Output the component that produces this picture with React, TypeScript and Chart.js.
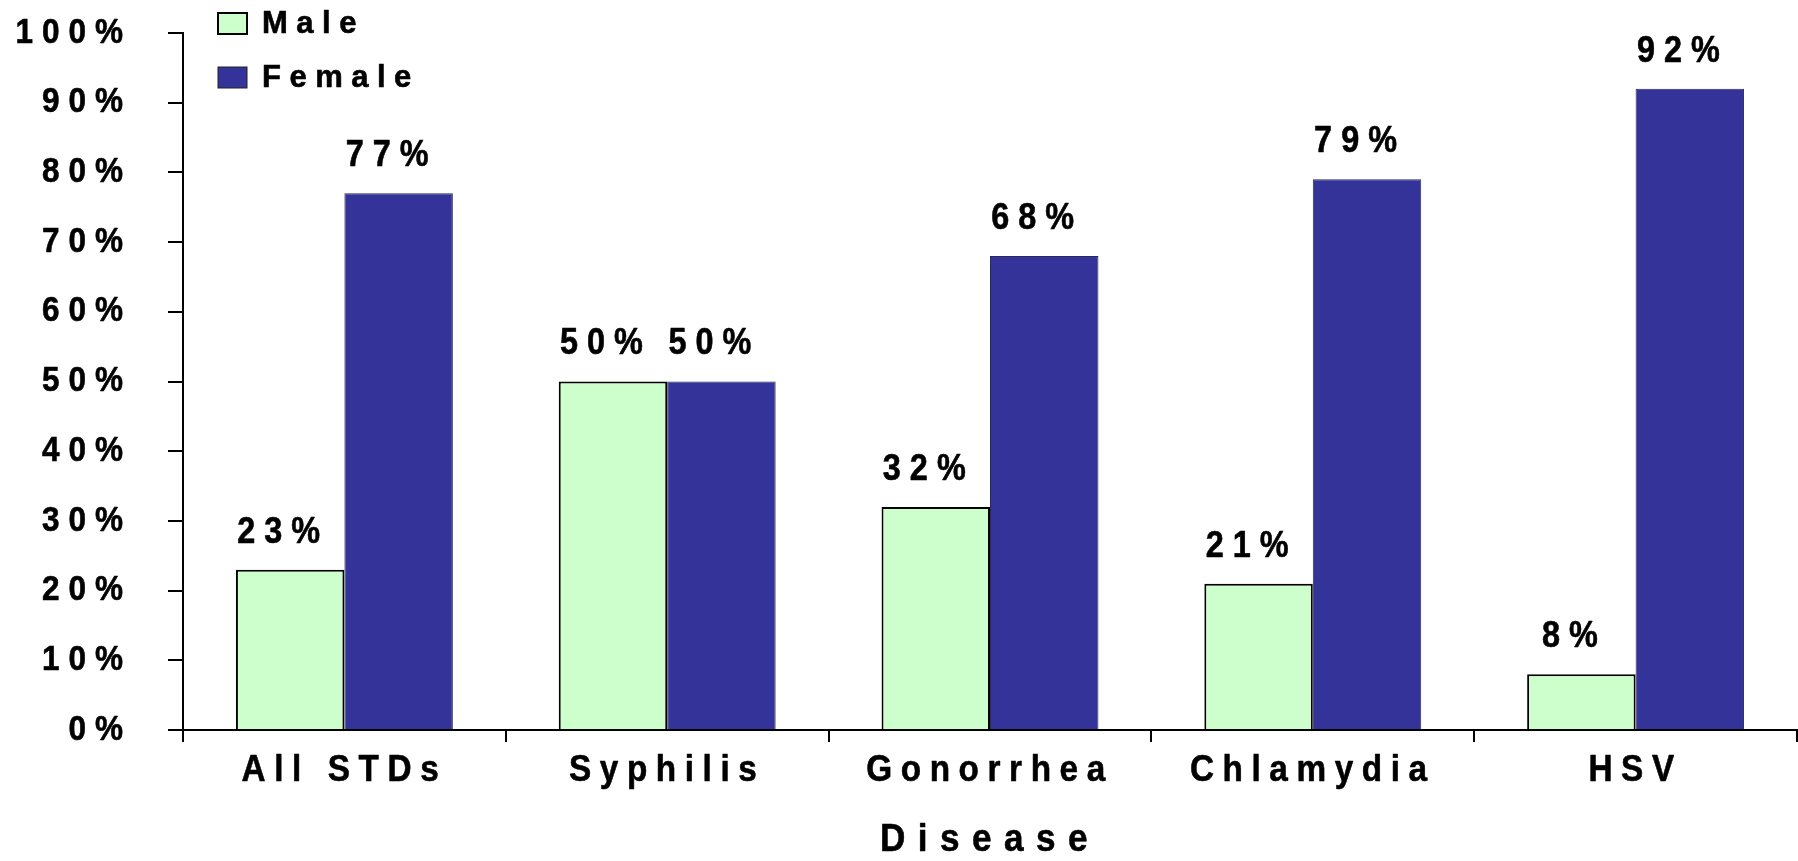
import React, { useEffect, useRef } from 'react';
import { Chart, registerables } from 'chart.js';

Chart.register(...registerables);

// ---- Data ----
const categories = ['All STDs', 'Syphilis', 'Gonorrhea', 'Chlamydia', 'HSV'];
const seriesNames = ['Male', 'Female'];
const maleValues = [23, 50, 32, 21, 8];
const femaleValues = [77, 50, 68, 79, 92];
const yTickValues = [0, 10, 20, 30, 40, 50, 60, 70, 80, 90, 100];
const xAxisTitle = 'Disease';

// ---- Style ----
const FONT = "'Liberation Sans', Arial, sans-serif";
// per font size: [horizontal glyph scale, letter spacing in px]
const TEXT_STYLE_BY_SIZE: Record<number, [number, number]> = {
  35: [0.9, 9],
  36: [0.9, 9],
  37: [0.9, 8.6],
  39: [0.9, 12.5],
  31: [1.0, 8.5],
};
const W = 1798;
const H = 861;

function installSpacedText(ctx: any) {
  if (ctx.__spaced) return;
  ctx.__spaced = true;
  const origFill = ctx.fillText;
  const origStroke = ctx.strokeText;
  ctx.fillText = function (text: string, x: number, y: number, maxWidth?: number) {
    const m = /(\d+(?:\.\d+)?)px/.exec(this.font);
    const size = m ? parseFloat(m[1]) : 12;
    const [sx, spacing] = TEXT_STYLE_BY_SIZE[size] ?? [1, 0];
    this.save();
    this.letterSpacing = spacing / sx + 'px';
    this.translate(x, y);
    this.scale(sx, 1);
    const mw = maxWidth !== undefined && maxWidth !== null ? maxWidth / sx : undefined;
    if (mw !== undefined) origFill.call(this, text, 0, 0, mw);
    else origFill.call(this, text, 0, 0);
    this.strokeStyle = this.fillStyle;
    this.lineWidth = 0.6;
    this.lineJoin = 'round';
    if (mw !== undefined) origStroke.call(this, text, 0, 0, mw);
    else origStroke.call(this, text, 0, 0);
    this.restore();
  };
}

const valueLabelPlugin = {
  id: 'valueLabels',
  afterDatasetsDraw(chart: any) {
    const ctx = chart.ctx;
    ctx.save();
    ctx.font = `bold 36px ${FONT}`;
    ctx.textAlign = 'center';
    ctx.textBaseline = 'middle';
    ctx.fillStyle = '#000';
    chart.data.datasets.forEach((ds: any, di: number) => {
      const meta = chart.getDatasetMeta(di);
      meta.data.forEach((bar: any, i: number) => {
        ctx.fillText(ds.data[i] + '%', bar.x - 7, bar.y - 37);
      });
    });
    ctx.restore();
  },
};

const legendPlugin = {
  id: 'verticalLegend',
  afterDraw(chart: any) {
    const ctx = chart.ctx;
    ctx.save();
    ctx.font = `bold 31px ${FONT}`;
    ctx.textAlign = 'left';
    ctx.textBaseline = 'middle';
    chart.data.datasets.forEach((ds: any, i: number) => {
      const top = 13 + i * 54;
      ctx.fillStyle = ds.backgroundColor;
      ctx.fillRect(218, top, 29, 21);
      ctx.lineWidth = i === 0 ? 2 : 1;
      ctx.strokeStyle = i === 0 ? '#000' : '#222';
      ctx.strokeRect(218, top, 29, 21);
      ctx.fillStyle = '#000';
      ctx.fillText(ds.label, 262, top + 11);
    });
    ctx.restore();
  },
};

export default function App() {
  const canvasRef = useRef<HTMLCanvasElement | null>(null);

  useEffect(() => {
    document.body.style.margin = '0';
    const canvas = canvasRef.current;
    if (!canvas) return;
    const ctx = canvas.getContext('2d');
    installSpacedText(ctx);
    const chart = new Chart(ctx as any, {
      type: 'bar',
      data: {
        labels: categories,
        datasets: [
          {
            label: seriesNames[0],
            data: maleValues,
            backgroundColor: '#CCFFCC',
            borderColor: '#000000',
            borderWidth: 2,
            borderSkipped: 'start',
          },
          {
            label: seriesNames[1],
            data: femaleValues,
            backgroundColor: '#333399',
            borderColor: '#2a2a55',
            borderWidth: 1,
            borderSkipped: 'start',
          },
        ],
      },
      options: {
        responsive: false,
        animation: false,
        devicePixelRatio: 1,
        datasets: {
          bar: {
            categoryPercentage: 0.672,
            barPercentage: 1,
          },
        },
        layout: {
          padding: { top: 33, right: 1, left: 0, bottom: 0 },
        },
        plugins: {
          legend: { display: false },
          tooltip: { enabled: false },
          title: { display: false },
        },
        scales: {
          x: {
            type: 'category',
            grid: {
              display: true,
              drawOnChartArea: false,
              drawTicks: true,
              tickLength: 12,
              color: '#000',
              lineWidth: 2,
              offset: true,
            },
            border: { display: true, color: '#000', width: 2 },
            ticks: {
              color: '#000',
              font: { family: FONT, size: 37, weight: 'bold' },
              padding: 7,
              maxRotation: 0,
              autoSkip: false,
            },
            title: {
              display: true,
              text: xAxisTitle,
              color: '#000',
              font: { family: FONT, size: 39, weight: 'bold', lineHeight: 1 },
              padding: { top: 0, bottom: 1 },
            },
            afterFit: (scale: any) => {
              scale.height = 131;
              scale.paddingLeft = 0;
              scale.paddingRight = 0;
            },
          },
          y: {
            min: 0,
            max: 100,
            afterBuildTicks: (scale: any) => {
              scale.ticks = yTickValues.map((v) => ({ value: v }));
            },
            ticks: {
              color: '#000',
              font: { family: FONT, size: 35, weight: 'bold' },
              padding: 36,
              callback: (v: any) => v + '%',
            },
            grid: {
              display: true,
              drawOnChartArea: false,
              drawTicks: true,
              tickLength: 15,
              color: '#000',
              lineWidth: 2,
            },
            border: { display: true, color: '#000', width: 2 },
            afterFit: (scale: any) => {
              scale.width = 183;
              scale.paddingTop = 0;
              scale.paddingBottom = 0;
            },
          },
        },
      },
      plugins: [valueLabelPlugin, legendPlugin],
    } as any);
    return () => {
      chart.destroy();
    };
  }, []);

  return (
    <div style={{ position: 'fixed', left: 0, top: 0, width: W, height: H, background: '#fff' }}>
      <canvas ref={canvasRef} width={W} height={H} style={{ display: 'block', width: W, height: H }} />
    </div>
  );
}
